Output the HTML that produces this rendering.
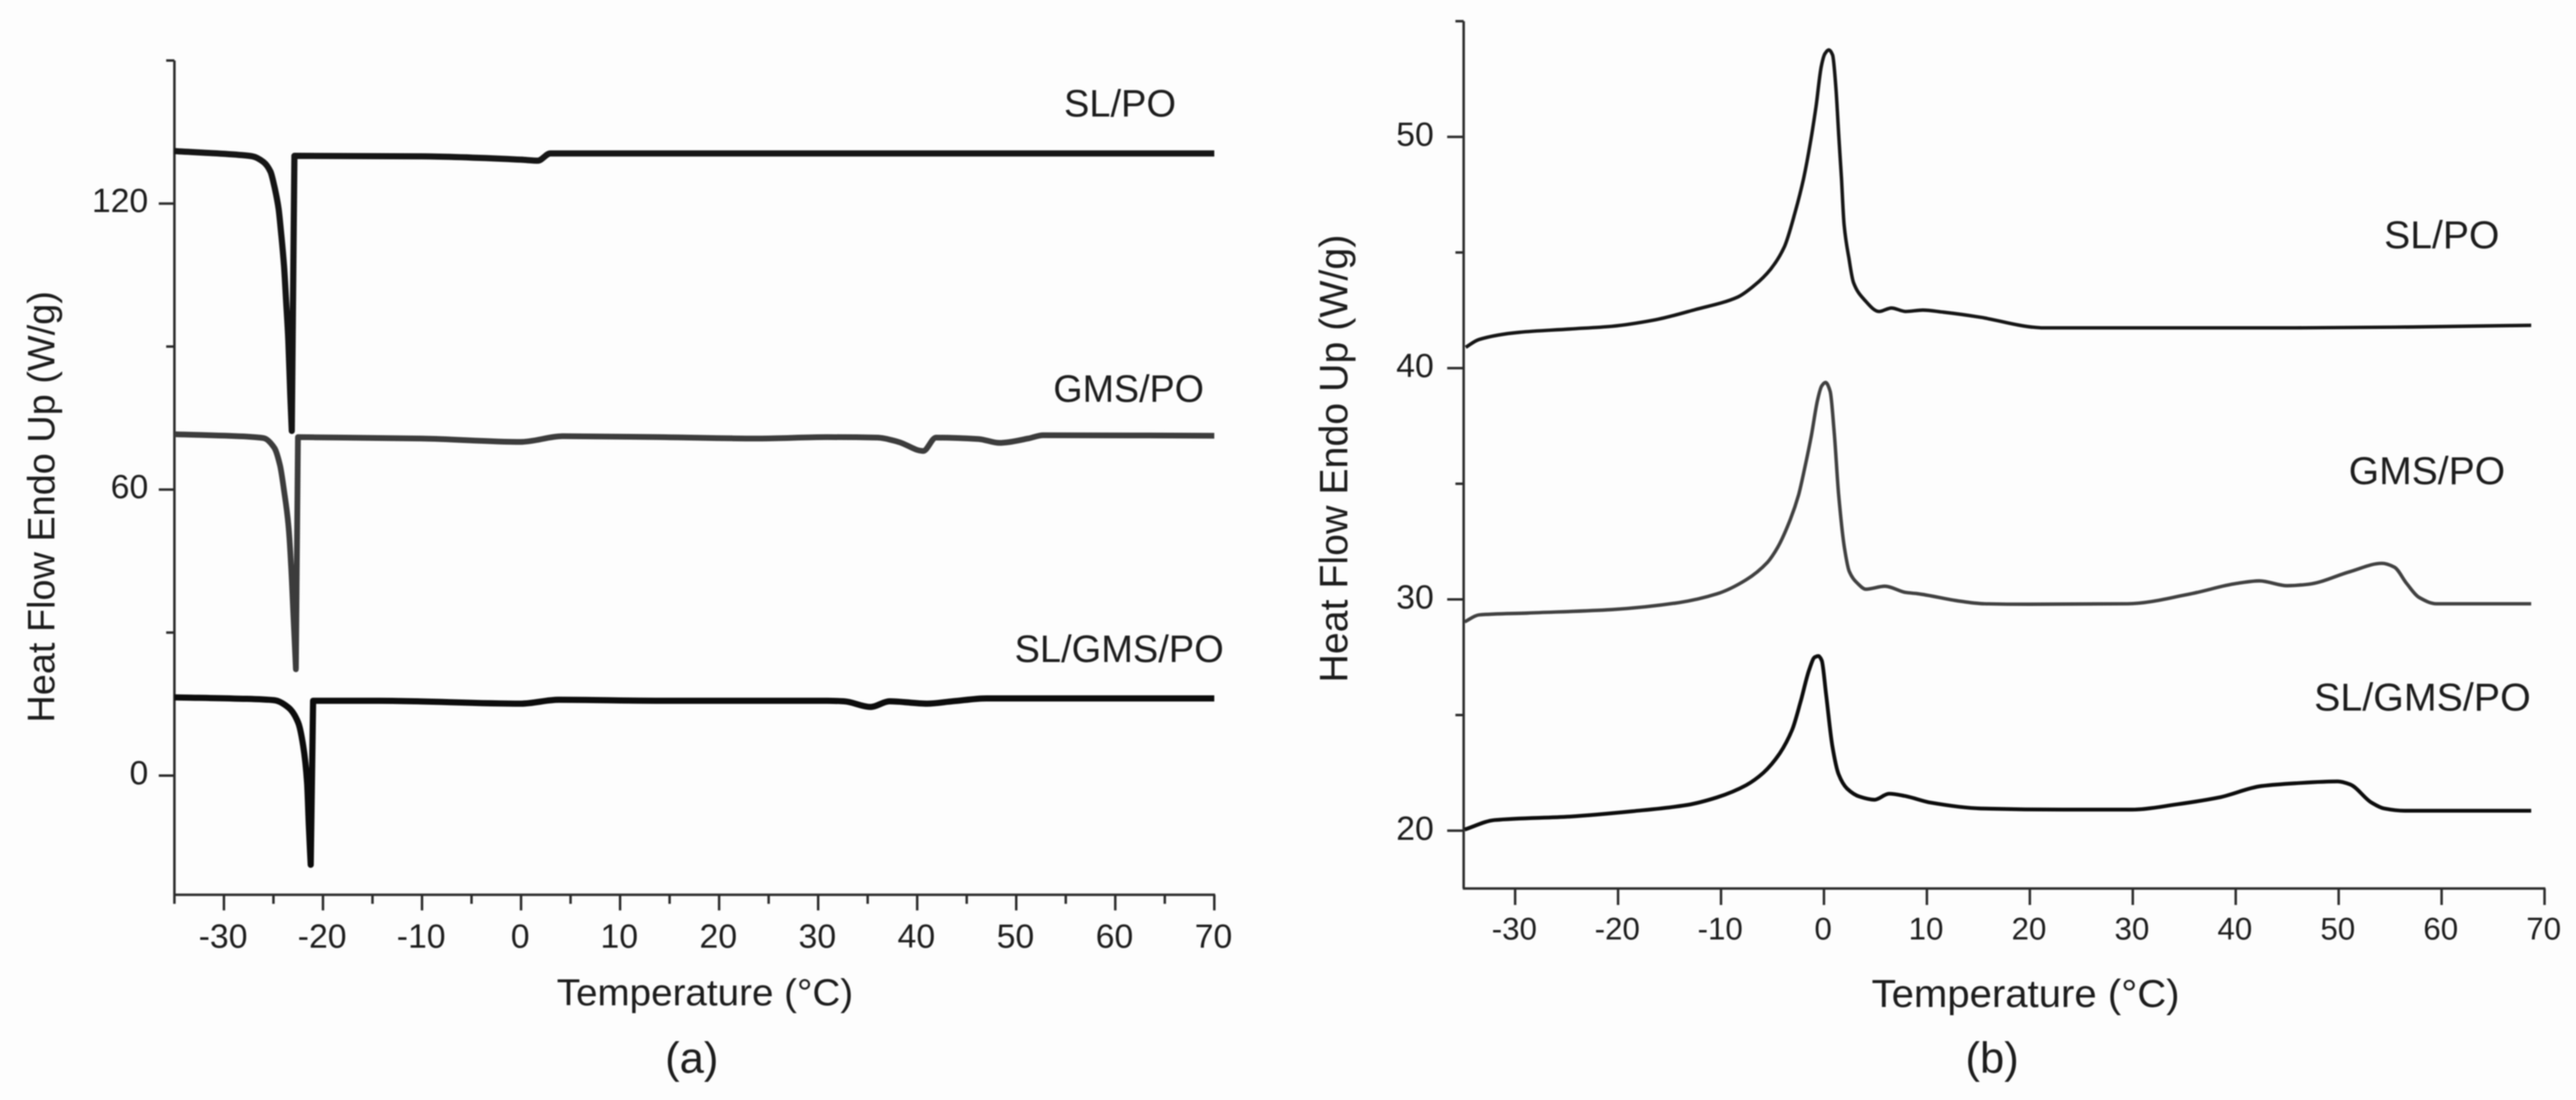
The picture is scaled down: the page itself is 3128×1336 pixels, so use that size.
<!DOCTYPE html>
<html lang="en">
<head>
<meta charset="utf-8">
<title>DSC heat flow curves</title>
<style>
html,body{margin:0;padding:0;background:#fdfdfd;}
body{width:3128px;height:1336px;overflow:hidden;}
svg{display:block;filter:blur(0.9px);}
text{font-family:"Liberation Sans",Arial,sans-serif;fill:#1c1c1c;}
</style>
</head>
<body>
<svg id="fig" xmlns="http://www.w3.org/2000/svg" width="3128" height="1336" viewBox="0 0 3128 1336">
  <rect x="0" y="0" width="3128" height="1336" fill="#fdfdfd"/>
  <g id="panelA">
    <text transform="translate(66,615.6) rotate(-90)" text-anchor="middle" font-size="46" textLength="524" lengthAdjust="spacingAndGlyphs">Heat Flow Endo Up (W/g)</text>
    <text x="856" y="1221" text-anchor="middle" font-size="45" textLength="360" lengthAdjust="spacingAndGlyphs">Temperature (°C)</text>
    <text x="840" y="1303" text-anchor="middle" font-size="53">(a)</text>
    <text x="1292" y="141.5" font-size="46" textLength="136" lengthAdjust="spacingAndGlyphs">SL/PO</text>
    <text x="1279" y="488" font-size="46" textLength="183" lengthAdjust="spacingAndGlyphs">GMS/PO</text>
    <text x="1232" y="804" font-size="46" textLength="254" lengthAdjust="spacingAndGlyphs">SL/GMS/PO</text>
  </g>
  <g id="panelB">
    <text transform="translate(1636,557) rotate(-90)" text-anchor="middle" font-size="47.8" textLength="544" lengthAdjust="spacingAndGlyphs">Heat Flow Endo Up (W/g)</text>
    <text x="2459.6" y="1223" text-anchor="middle" font-size="47" textLength="374" lengthAdjust="spacingAndGlyphs">Temperature (°C)</text>
    <text x="2419" y="1303" text-anchor="middle" font-size="53">(b)</text>
    <text x="2895" y="301.7" font-size="47.4" textLength="140" lengthAdjust="spacingAndGlyphs">SL/PO</text>
    <text x="2852" y="588" font-size="47.4" textLength="190" lengthAdjust="spacingAndGlyphs">GMS/PO</text>
    <text x="2810" y="863" font-size="47.4" textLength="263" lengthAdjust="spacingAndGlyphs">SL/GMS/PO</text>
  </g>
</svg>
<script>
// Panel (a) axis data
var aXMajorTicks = [-30,-20,-10,0,10,20,30,40,50,60,70];
var aXMinorTicks = [-35,-25,-15,-5,5,15,25,35,45,55,65];
var aYMajorTicks = [0,60,120];
var aYMinorTicks = [30,90,150];

// Panel (a) series: melt dip runs down to its tip, then jumps straight back to the baseline
var aSlPoTemp = [-35,-28.5,-27.1,-26,-25.3,-24.9,-24.48,-24.2,-23.93,-23.73,-23.5,-23.3,-23.15,-22.88,-10,0,1.7,2.95,10,70];
var aSlPoFlow = [131,130.2,129.9,128.7,126.7,123.5,118.9,113.2,106.9,99.9,91.3,79.8,72.3,130,129.9,129.2,129,130.5,130.5,130.5];

var aGmsPoTemp = [-35,-27.7,-26,-24.9,-24.34,-23.93,-23.5,-23.23,-23,-22.73,-22.53,-10,0,4.2,13.9,24,30.9,36,38.1,40.6,41.9,46.2,48.3,51.2,52.7,70];
var aGmsPoFlow = [71.6,71.1,70.8,68.7,65.1,59.8,52.7,44.4,34.2,22.3,71,70.7,70,71.2,71,70.7,71,70.9,70,68.1,70.9,70.6,69.8,70.7,71.4,71.3];

var aSlGmsPoTemp = [-35,-27.7,-24.9,-23.5,-22.5,-22,-21.6,-21.43,-21.24,-21,-14.4,0,3.8,13.9,30.9,32.6,35.3,37.2,41,43.6,47,70];
var aSlGmsPoFlow = [16.4,16.1,15.8,14.3,11.1,6.3,-1.5,-10.4,-18.7,15.7,15.7,15.1,15.9,15.7,15.7,15.6,14.4,15.6,15.1,15.6,16.2,16.2];

// Panel (b) axis data
var bXMajorTicks = [-30,-20,-10,0,10,20,30,40,50,60,70];
var bYMajorTicks = [20,30,40,50];
var bYMinorTicks = [25,35,45,55];

// Panel (b) series
var bSlPoTemp = [-34.8,-33.5,-29.6,-24.7,-20.6,-16.5,-12.5,-8.4,-6.78,-5.18,-3.85,-2.78,-1.98,-1.32,-0.78,-0.25,0.1,0.47,0.84,1.16,1.43,1.7,1.96,2.42,2.87,3.88,5.35,6.55,7.95,9.6,11.6,15.2,20.1,21.3,45.8,57.2,68.7];
var bSlPoFlow = [40.9,41.24,41.55,41.69,41.81,42.08,42.53,43.07,43.57,44.28,45.24,46.78,48.2,49.75,51.29,53.07,53.6,53.76,53.54,52.12,50.1,48.2,46.19,44.76,43.7,42.98,42.45,42.6,42.45,42.51,42.42,42.2,41.78,41.74,41.74,41.78,41.85];

var bGmsPoTemp = [-34.9,-33.5,-28.8,-20.6,-14.1,-10.4,-7.55,-5.5,-4.5,-3.26,-2.46,-1.84,-1.22,-0.62,-0.22,0.15,0.6,1.0,1.43,2.0,2.45,3.27,4.08,5.92,7.96,9.06,13.1,15.6,20,29.5,35.6,40.1,42.3,45,47,51.1,54.2,55.4,56.6,57.8,59.5,68.7];
var bGmsPoFlow = [29.03,29.33,29.41,29.56,29.86,30.24,30.85,31.6,32.25,33.47,34.53,35.74,37.1,38.63,39.23,39.38,39.0,37.2,34.5,32.2,31.22,30.69,30.44,30.57,30.3,30.25,29.93,29.81,29.79,29.81,30.24,30.69,30.8,30.59,30.65,31.2,31.56,31.4,30.69,30.09,29.81,29.81];

var bSlGmsPoTemp = [-34.9,-32,-24.7,-18.6,-13.3,-10.4,-7.55,-5.9,-4.3,-3.06,-2.25,-1.42,-0.9,-0.53,-0.22,0.2,0.82,1.43,2.25,3.47,4.9,6.33,7.96,10.4,15.2,23.3,29.9,34.3,38.4,42.5,45.8,49.9,51.1,53.2,54.4,56.4,68.7];
var bSlGmsPoFlow = [20.05,20.46,20.61,20.84,21.11,21.44,21.97,22.5,23.34,24.4,25.61,26.98,27.5,27.55,27.36,25.92,23.64,22.43,21.82,21.47,21.34,21.6,21.49,21.21,20.96,20.91,20.91,21.14,21.44,21.93,22.05,22.13,22.0,21.21,20.96,20.86,20.86];

var NS = 'http://www.w3.org/2000/svg';
function make(tag, parent, attrs){
  var el = document.createElementNS(NS, tag);
  for (var k in attrs) el.setAttribute(k, attrs[k]);
  parent.appendChild(el);
  return el;
}

// Axis scales
function axX(t){ return 632.7 + 12.026 * t; }
function ayY(v){ return 942 - 5.79 * v; }
function bxX(t){ return 2214.8 + 12.5 * t; }
function byY(v){ return 1008.9 - 28.09 * (v - 20); }

// Monotone cubic through pixel points (no overshoot on uneven spacing)
function monotoneSegs(p){
  var n = p.length, m = [], s = [], i;
  for (i = 0; i < n - 1; i++) s.push((p[i+1][1] - p[i][1]) / (p[i+1][0] - p[i][0]));
  for (i = 0; i < n; i++){
    if (i === 0) m.push(s[0]);
    else if (i === n - 1) m.push(s[n-2]);
    else if (s[i-1] * s[i] <= 0) m.push(0);
    else {
      var h0 = p[i][0] - p[i-1][0], h1 = p[i+1][0] - p[i][0];
      m.push(3 * (h0 + h1) / ((2 * h1 + h0) / s[i-1] + (h1 + 2 * h0) / s[i]));
    }
  }
  var d = '';
  for (i = 0; i < n - 1; i++){
    var dx = (p[i+1][0] - p[i][0]) / 3;
    d += 'C' + (p[i][0] + dx).toFixed(1) + ' ' + (p[i][1] + m[i] * dx).toFixed(1) + ' ' +
         (p[i+1][0] - dx).toFixed(1) + ' ' + (p[i+1][1] - m[i+1] * dx).toFixed(1) + ' ' +
         p[i+1][0].toFixed(1) + ' ' + p[i+1][1].toFixed(1);
  }
  return d;
}
function pixelPoints(ts, vs, fx, fy){
  return ts.map(function(t, i){ return [fx(t), fy(vs[i])]; });
}
function smoothPath(ts, vs, fx, fy){
  var p = pixelPoints(ts, vs, fx, fy);
  return 'M' + p[0][0].toFixed(1) + ' ' + p[0][1].toFixed(1) + monotoneSegs(p);
}
// Smooth down to the dip tip, straight jump to baseline, smooth afterwards
function dipPath(ts, vs, fx, fy){
  var p = pixelPoints(ts, vs, fx, fy), tip = 0, i;
  for (i = 1; i < vs.length; i++) if (vs[i] < vs[tip]) tip = i;
  var left = p.slice(0, tip + 1), right = p.slice(tip + 1);
  return 'M' + left[0][0].toFixed(1) + ' ' + left[0][1].toFixed(1) + monotoneSegs(left) +
         'L' + right[0][0].toFixed(1) + ' ' + right[0][1].toFixed(1) + monotoneSegs(right);
}

var gA = document.getElementById('panelA');
var gB = document.getElementById('panelB');
var AXIS = '#2a2a2a';
var el;

// ---- Panel (a) axes ----
el = make('line', gA, {x1:axX(-35), y1:ayY(150), x2:axX(-35), y2:ayY(-25), stroke:AXIS, 'stroke-width':3});


el = make('line', gA, {x1:axX(-35)-1, y1:ayY(-25), x2:axX(70)+1, y2:ayY(-25), stroke:AXIS, 'stroke-width':3});



aXMajorTicks.forEach(function(t){
  var m = make('line', gA, {x1:axX(t), y1:ayY(-25), x2:axX(t), y2:ayY(-25)+19, stroke:AXIS, 'stroke-width':3});
  
  
  var l = make('text', gA, {x:axX(t)-1, y:1151, 'text-anchor':'middle', 'font-size':41});
  
  
  l.textContent = String(t);
});
aXMinorTicks.forEach(function(t){
  var m = make('line', gA, {x1:axX(t), y1:ayY(-25), x2:axX(t), y2:ayY(-25)+11, stroke:AXIS, 'stroke-width':3});
  
  
});
aYMajorTicks.forEach(function(v){
  var m = make('line', gA, {x1:axX(-35)-19, y1:ayY(v), x2:axX(-35), y2:ayY(v), stroke:AXIS, 'stroke-width':3});
  
  
  var l = make('text', gA, {x:180, y:ayY(v)+10.5, 'text-anchor':'end', 'font-size':41});
  
  
  l.textContent = String(v);
});
aYMinorTicks.forEach(function(v){
  var m = make('line', gA, {x1:axX(-35)-10, y1:ayY(v), x2:axX(-35), y2:ayY(v), stroke:AXIS, 'stroke-width':3});
  
  
});

// ---- Panel (a) series ----
el = make('path', gA, {d:dipPath(aSlPoTemp, aSlPoFlow, axX, ayY), fill:'none', stroke:'#151515', 'stroke-width':7.5, 'stroke-linejoin':'round'});


el = make('path', gA, {d:dipPath(aGmsPoTemp, aGmsPoFlow, axX, ayY), fill:'none', stroke:'#3c3c3c', 'stroke-width':7, 'stroke-linejoin':'round'});


el = make('path', gA, {d:dipPath(aSlGmsPoTemp, aSlGmsPoFlow, axX, ayY), fill:'none', stroke:'#0c0c0c', 'stroke-width':7.5, 'stroke-linejoin':'round'});



// ---- Panel (b) axes ----
el = make('line', gB, {x1:bxX(-35), y1:byY(55), x2:bxX(-35), y2:byY(17.5), stroke:AXIS, 'stroke-width':3});


el = make('line', gB, {x1:bxX(-35)-1, y1:byY(17.5), x2:bxX(70)+1, y2:byY(17.5), stroke:AXIS, 'stroke-width':3});



bXMajorTicks.forEach(function(t){
  var m = make('line', gB, {x1:bxX(t), y1:byY(17.5), x2:bxX(t), y2:byY(17.5)+20, stroke:AXIS, 'stroke-width':3});
  
  
  var l = make('text', gB, {x:bxX(t)-1, y:1141, 'text-anchor':'middle', 'font-size':38});
  
  
  l.textContent = String(t);
});
bYMajorTicks.forEach(function(v){
  var m = make('line', gB, {x1:bxX(-35)-20, y1:byY(v), x2:bxX(-35), y2:byY(v), stroke:AXIS, 'stroke-width':3});
  
  
  var l = make('text', gB, {x:1741, y:byY(v)+11, 'text-anchor':'end', 'font-size':41});
  
  
  l.textContent = String(v);
});
bYMinorTicks.forEach(function(v){
  var m = make('line', gB, {x1:bxX(-35)-10, y1:byY(v), x2:bxX(-35), y2:byY(v), stroke:AXIS, 'stroke-width':3});
  
  
});

// ---- Panel (b) series ----
el = make('path', gB, {d:smoothPath(bSlPoTemp, bSlPoFlow, bxX, byY), fill:'none', stroke:'#151515', 'stroke-width':4.2, 'stroke-linejoin':'round'});


el = make('path', gB, {d:smoothPath(bGmsPoTemp, bGmsPoFlow, bxX, byY), fill:'none', stroke:'#404040', 'stroke-width':4.2, 'stroke-linejoin':'round'});


el = make('path', gB, {d:smoothPath(bSlGmsPoTemp, bSlGmsPoFlow, bxX, byY), fill:'none', stroke:'#0c0c0c', 'stroke-width':4.6, 'stroke-linejoin':'round'});


</script>
</body>
</html>
